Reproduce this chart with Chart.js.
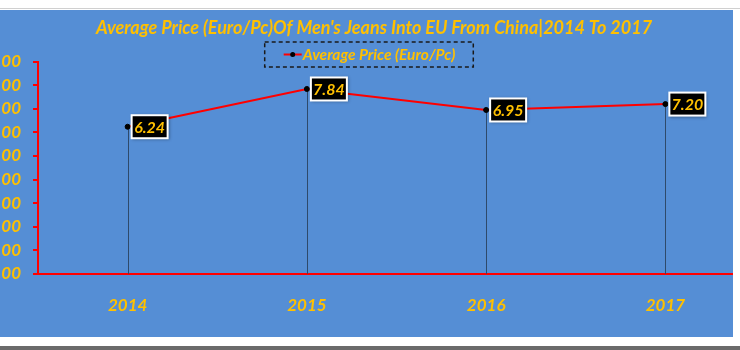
<!DOCTYPE html>
<html>
  <head>
    <title>Average Price Of Men's Jeans</title>
    <style>
      html, body { margin: 0; padding: 0; background: #ffffff; overflow: hidden; }
      body { width: 740px; height: 350px; position: relative; }
      #frame {
        position: absolute; left: 0; top: 10px; width: 733px; height: 327px;
        background: #558ed5; overflow: hidden;
      }
      #wrap { position: absolute; left: -12px; top: 0; width: 772px; height: 327px; }
      #topLine { position: absolute; left: 0; top: 8px; width: 740px; height: 1px; background: #d0d0d0; }
      #bottomBar { position: absolute; left: 0; top: 346px; width: 740px; height: 4px; background: #6b6b6b; }
    </style>
  </head>
  <body>
    <div id="topLine"></div>
    <div id="frame">
      <div id="wrap"><canvas id="priceChart" width="772" height="327"></canvas></div>
    </div>
    <div id="bottomBar"></div>

    <script src="https://cdn.jsdelivr.net/npm/chart.js"></script>
    <script>
      const years = ["2014", "2015", "2016", "2017"];
      const avgPrice = [6.24, 7.84, 6.95, 7.2];
      const seriesName = "Average Price (Euro/Pc)";
      const chartTitle = "Average Price (Euro/Pc)Of Men's Jeans Into EU From China|2014 To 2017";

      const gold = "#FFC000";
      const fontFamily = "Lato, 'Open Sans', sans-serif";

      // drop lines from each point down to the x axis
      const dropLines = {
        id: "dropLines",
        beforeDatasetsDraw(chart) {
          const ctx = chart.ctx;
          const meta = chart.getDatasetMeta(0);
          const bottom = chart.chartArea.bottom;
          ctx.save();
          ctx.strokeStyle = "#2e4a6b";
          ctx.lineWidth = 1;
          meta.data.forEach((pt) => {
            ctx.beginPath();
            ctx.moveTo(Math.round(pt.x) + 0.5, pt.y);
            ctx.lineTo(Math.round(pt.x) + 0.5, bottom);
            ctx.stroke();
          });
          ctx.restore();
        },
      };

      // black value boxes to the right of each point
      const valueBoxes = {
        id: "valueBoxes",
        afterDatasetsDraw(chart) {
          const ctx = chart.ctx;
          const meta = chart.getDatasetMeta(0);
          const values = chart.data.datasets[0].data;
          ctx.save();
          ctx.font = "italic bold 16px " + fontFamily;
          ctx.textAlign = "center";
          ctx.textBaseline = "middle";
          meta.data.forEach((pt, i) => {
            const text = Number(values[i]).toFixed(2);
            const w = 34, h = 21;
            const x = pt.x + 5, y = pt.y - h / 2;
            ctx.shadowColor = "rgba(0,0,0,0.35)";
            ctx.shadowBlur = 3;
            ctx.shadowOffsetX = 1;
            ctx.shadowOffsetY = 1;
            ctx.fillStyle = "#ffffff";
            ctx.fillRect(x - 2, y - 2, w + 4, h + 4);
            ctx.shadowColor = "transparent";
            ctx.fillStyle = "#000000";
            ctx.fillRect(x, y, w, h);
            ctx.fillStyle = gold;
            ctx.fillText(text, x + w / 2, y + h / 2 + 1);
          });
          ctx.restore();
        },
      };

      // legend in a dashed box under the title
      const dashedLegend = {
        id: "dashedLegend",
        afterDraw(chart) {
          const ctx = chart.ctx;
          const ds = chart.data.datasets[0];
          ctx.save();
          ctx.font = "italic bold 15.5px " + fontFamily;
          const tw = ctx.measureText(ds.label).width;
          const lineW = 18, pad = 19;
          const boxW = pad + lineW + tw + pad;
          const boxH = 25;
          const cx = 381;
          const left = cx - boxW / 2, top = 32;
          ctx.setLineDash([4, 3]);
          ctx.strokeStyle = "#1a1a1a";
          ctx.lineWidth = 1.5;
          ctx.strokeRect(left, top, boxW, boxH);
          ctx.setLineDash([]);
          const my = top + boxH / 2;
          ctx.strokeStyle = ds.borderColor;
          ctx.lineWidth = 2;
          ctx.beginPath();
          ctx.moveTo(left + pad, my);
          ctx.lineTo(left + pad + lineW, my);
          ctx.stroke();
          ctx.fillStyle = "#000000";
          ctx.beginPath();
          ctx.arc(left + pad + lineW / 2, my, 2.5, 0, Math.PI * 2);
          ctx.fill();
          ctx.fillStyle = gold;
          ctx.textBaseline = "middle";
          ctx.fillText(ds.label, left + pad + lineW + 1, my);
          ctx.restore();
        },
      };

      const ctx = document.getElementById("priceChart").getContext("2d");
      new Chart(ctx, {
        type: "line",
        data: {
          labels: years,
          datasets: [
            {
              label: seriesName,
              data: avgPrice,
              borderColor: "#ff0000",
              borderWidth: 2,
              pointRadius: 2.5,
              pointBackgroundColor: "#000000",
              pointBorderColor: "#000000",
              pointBorderWidth: 1,
              tension: 0,
              fill: false,
            },
          ],
        },
        options: {
          responsive: false,
          animation: false,
          devicePixelRatio: 1,
          layout: { padding: { left: 0, right: 0, top: 0, bottom: 23 } },
          plugins: {
            legend: { display: false },
            tooltip: { enabled: false },
            title: {
              display: true,
              text: chartTitle,
              color: gold,
              font: { family: fontFamily, size: 18, weight: "bold", style: "italic" },
              padding: { top: 7, bottom: 23 },
            },
          },
          scales: {
            x: {
              offset: true,
              afterFit(scale) {
                scale.height = 40;
              },
              grid: { display: false, drawTicks: false },
              border: { display: true, color: "#ff0000", width: 2 },
              ticks: {
                color: gold,
                padding: 21,
                font: { family: fontFamily, size: 17, weight: "bold", style: "italic" },
              },
            },
            y: {
              min: 0,
              max: 9,
              afterFit(scale) {
                scale.width = 50;
              },
              grid: {
                display: true,
                drawOnChartArea: false,
                drawTicks: true,
                tickLength: 5,
                color: "#ff0000",
                lineWidth: 2,
              },
              border: { display: true, color: "#ff0000", width: 2 },
              ticks: {
                stepSize: 1,
                autoSkip: false,
                color: gold,
                padding: 12,
                callback: (v) => Number(v).toFixed(2),
                font: { family: fontFamily, size: 17, weight: "bold", style: "italic" },
              },
            },
          },
        },
        plugins: [dropLines, valueBoxes, dashedLegend],
      });
    </script>
  </body>
</html>
